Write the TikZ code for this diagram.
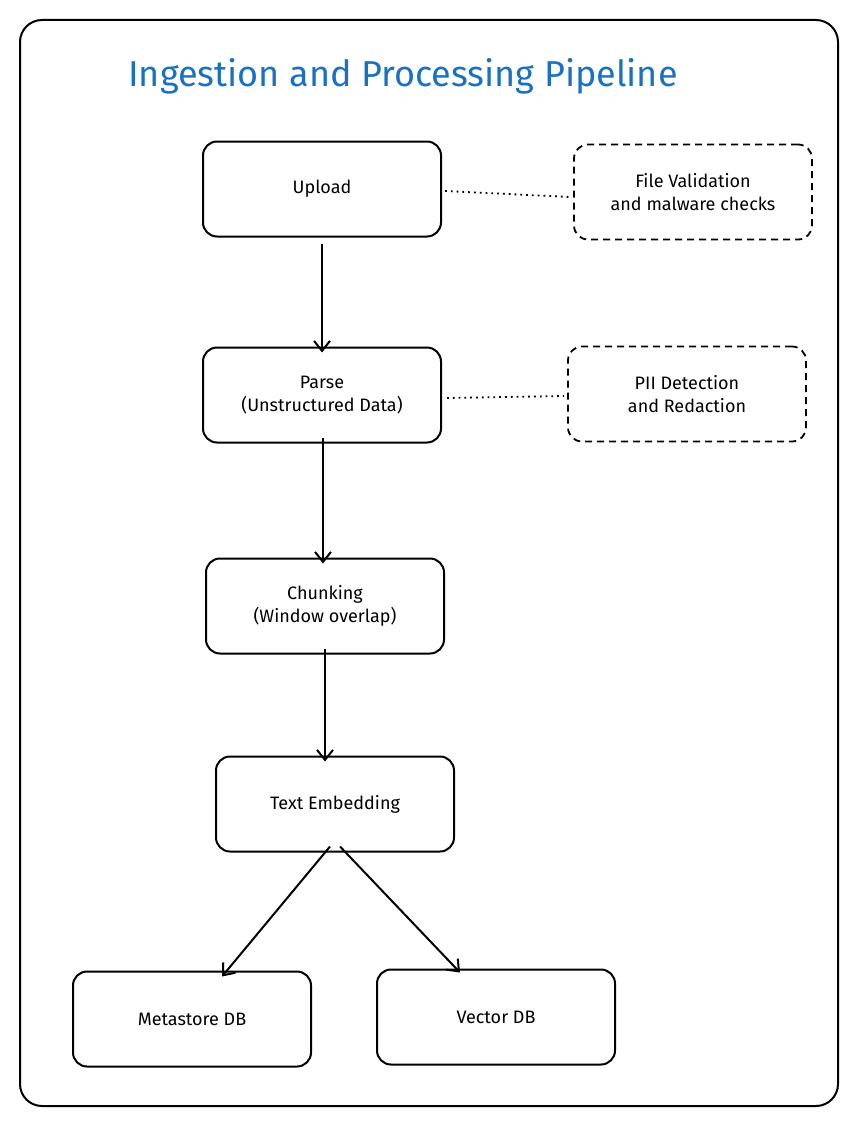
\documentclass[tikz,border=0pt]{standalone}
\usepackage{fontspec}
\setmainfont{Fira Sans}
\usetikzlibrary{arrows.meta}
\definecolor{ttl}{HTML}{1971C2}
\begin{document}
\begin{tikzpicture}[x=1pt,y=-1pt,
  box/.style={draw,line width=2pt,rounded corners=14pt,minimum width=238pt,minimum height=95pt,align=center,font=\fontsize{18}{23}\selectfont},
  dbox/.style={box,line width=1.8pt,dash pattern=on 7pt off 5pt},
  arr/.style={-{Straight Barb[length=10pt,width=16pt]},line width=2pt},
  dot/.style={line width=1.8pt,dash pattern=on 1.8pt off 4pt}]
\useasboundingbox (0,0) rectangle (859,1124);
\draw[line width=2pt,rounded corners=22pt] (20,20) rectangle (838,1106);
\node[text=ttl,font=\fontsize{36}{42}\selectfont] (title) at (403,76) {Ingestion and Processing Pipeline};
\node[box] (up) at (322,189) {Upload};
\node[box] (pa) at (322,395) {Parse\\(Unstructured Data)};
\node[box] (ch) at (325,606) {Chunking\\(Window overlap)};
\node[box] (te) at (335,804) {Text Embedding};
\node[box] (me) at (192,1019) {Metastore DB};
\node[box] (ve) at (496,1017) {Vector DB};
\node[dbox] (fv) at (693,192) {File Validation\\and malware checks};
\node[dbox] (pii) at (687,394) {PII Detection\\and Redaction};
\draw[arr] (up.south) ++(0,6) -- ([yshift=-6pt]pa.north);
\draw[arr] ([xshift=1pt,yshift=6pt]pa.south) -- ([xshift=-2pt,yshift=-6pt]ch.north);
\draw[arr] ([yshift=6pt]ch.south) -- ([xshift=-10pt,yshift=-6pt]te.north);
\draw[arr] ([xshift=-5pt,yshift=6pt]te.south) -- ([xshift=30pt,yshift=-6pt]me.north);
\draw[arr] ([xshift=5pt,yshift=6pt]te.south) -- ([xshift=-36pt,yshift=-4pt]ve.north);
\draw[dot] ([xshift=3pt,yshift=-2pt]up.east) -- ([xshift=-3pt,yshift=-5pt]fv.west);
\draw[dot] ([xshift=5pt,yshift=-3pt]pa.east) -- ([xshift=-3pt,yshift=-2pt]pii.west);
\end{tikzpicture}
\end{document}
